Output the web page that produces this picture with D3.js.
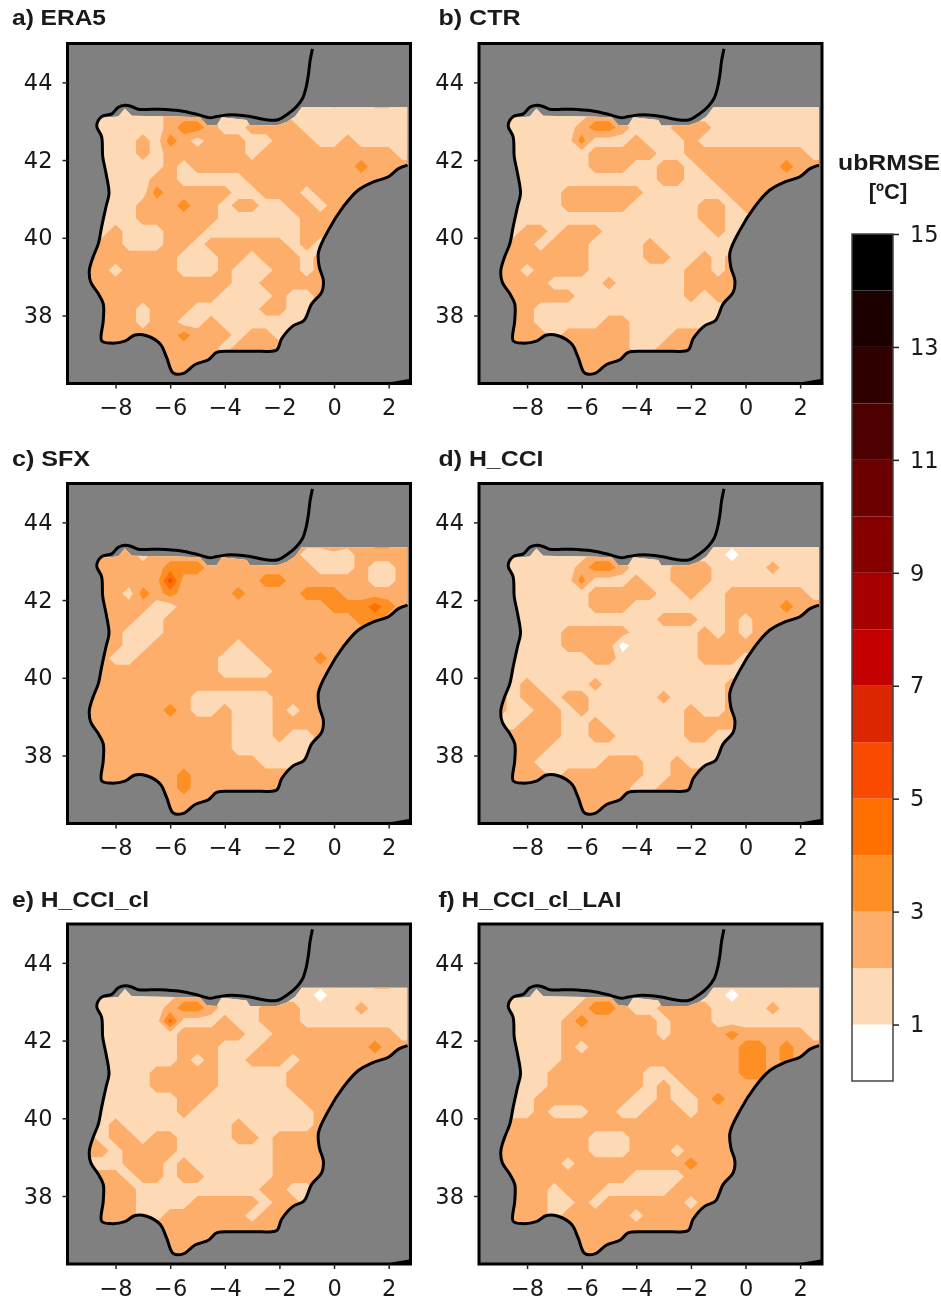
<!DOCTYPE html>
<html>
<head>
<meta charset="utf-8">
<style>
    html, body { margin: 0; padding: 0; background: #fff; }
    svg { display: block; filter: blur(0.45px); }
    text { fill: #1a1a1a; }
    .tick text { font-family: "DejaVu Sans", sans-serif; font-size: 22.5px; }
    .tick line { stroke: #222; stroke-width: 1.5px; }
    .title { font-family: "Liberation Sans", Arial, sans-serif; font-size: 22px; font-weight: bold; }
</style>
</head>
<body>
<svg width="941" height="1304"></svg>
<script src="https://d3js.org/d3.v7.min.js"></script>
<script>
    // colour bands, one per degree of ubRMSE from 0 to 15
    var levels = d3.range(0, 16);
    var bandColors = ["#ffffff", "#fdd9b5", "#fdae6b", "#fd8f24", "#ff7000", "#f84a00", "#dc2600", "#c40000",
        "#a60000", "#860000", "#6c0000", "#4c0000", "#300000", "#1c0000", "#000000"];
    var barTicks = [1, 3, 5, 7, 9, 11, 13, 15];
    var xTicks = [-8, -6, -4, -2, 0, 2];
    var yTicks = [38, 40, 42, 44];

    var titles = ["a) ERA5", "b) CTR", "c) SFX", "d) H_CCI", "e) H_CCI_cl", "f) H_CCI_cl_LAI"];

    // coast of Iberia, from the French side round to Catalonia
    var coastLon = [-0.79, -0.88, -0.94, -1.03, -1.15, -1.37, -1.67, -2.10, -2.59, -3.08, -3.57, -3.93, -4.30, -4.54, -5.03, -5.64, -6.37, -7.17, -7.41, -7.66, -7.90, -8.14, -8.51, -8.69, -8.51, -8.47, -8.35, -8.24, -8.35, -8.51, -8.63, -8.82, -8.96, -8.91, -8.63, -8.45, -8.45, -8.51, -8.21, -7.66, -7.29, -6.86, -6.37, -6.13, -5.89, -5.52, -5.09, -4.60, -4.30, -3.69, -2.71, -2.10, -1.92, -1.49, -1.10, -0.82, -0.45, -0.39, -0.54, -0.57, -0.21, 0.34, 0.89, 1.44, 1.99, 2.36, 2.69];
    var coastLat = [44.86, 44.54, 44.19, 43.85, 43.59, 43.38, 43.20, 43.03, 43.05, 43.12, 43.16, 43.16, 43.12, 43.09, 43.18, 43.27, 43.31, 43.31, 43.38, 43.41, 43.36, 43.19, 43.12, 42.88, 42.60, 42.09, 41.66, 41.14, 40.80, 40.28, 39.85, 39.51, 39.16, 38.86, 38.56, 38.30, 37.87, 37.35, 37.29, 37.34, 37.50, 37.48, 37.27, 36.92, 36.52, 36.51, 36.74, 36.86, 37.05, 37.08, 37.08, 37.11, 37.40, 37.74, 37.87, 38.30, 38.60, 38.90, 39.25, 39.63, 40.19, 40.80, 41.23, 41.44, 41.57, 41.78, 41.87];

    // northern limit of the model grid, it sits a bit inside the coast line
    var northLon = [-8.57, -7.90, -7.66, -7.41, -5.89, -4.91, -4.66, -4.30, -4.11, -3.20, -3.08, -2.10, -1.73, -1.43, -1.18, 2.69];
    var northLat = [43.08, 43.12, 43.33, 43.14, 43.12, 43.10, 42.90, 42.89, 43.10, 43.03, 42.89, 42.89, 42.98, 43.12, 43.36, 43.36];

    // bit of Africa in the lower right corner
    var africaLon = [2.05, 2.8, 2.8];
    var africaLat = [36.28, 36.37, 36.25];

    // ubRMSE band per grid cell, 0.5 deg in lon from -9.5, 1/3 deg in lat from 43.5
    var era5 = [
        "11111 11111 11111 11112 11221 1",
        "11111 11222 21111 21111 11111 1",
        "11111 11233 21122 22111 11111 1",
        "11111 21321 22211 22211 21111 1",
        "11111 21222 22212 22222 22221 1",
        "11111 11212 22222 22222 23222 2",
        "11111 12211 11122 22222 22222 2",
        "11111 13222 22112 22122 22222 2",
        "11111 22232 21221 12212 22222 2",
        "11111 22222 21111 11222 22222 2",
        "11121 11222 11111 11222 22222 2",
        "22221 11221 22222 21212 22222 2",
        "22222 22211 12212 22122 22222 2",
        "22212 22211 12111 22122 22222 2",
        "22222 22222 22112 22222 22222 2",
        "22222 22222 21111 21122 22222 2",
        "22222 12221 11112 21122 22222 2",
        "22222 12211 21111 11222 22222 2",
        "22222 22232 22122 11222 22222 2",
        "22222 22222 21222 22222 22222 2",
        "22222 22222 22222 22222 22222 2",
        "22222 22222 22222 22222 22222 2"
    ];
    var ctr = [
        "11111 11111 11111 11111 11111 1",
        "11111 11122 11111 11111 11111 1",
        "11111 11233 21112 22111 11111 1",
        "11111 11311 12111 21111 11111 1",
        "11111 11122 22211 22222 22221 1",
        "11111 11122 21122 12222 22322 2",
        "11111 11111 11122 11222 22222 2",
        "11111 12222 22111 11122 22222 2",
        "11111 12222 21111 12212 22222 2",
        "11111 11111 11111 12211 22222 2",
        "11122 12221 11111 11211 22222 2",
        "11221 22211 11211 11111 11111 1",
        "22222 22211 11221 12122 22222 2",
        "22212 22211 11111 22122 22222 2",
        "22222 11112 11111 22222 22222 2",
        "22222 22111 11111 21222 22222 2",
        "22221 11111 11111 11111 11111 1",
        "22221 11112 21111 11111 11111 1",
        "22222 12222 21112 22222 22222 2",
        "22222 22222 21122 22222 22222 2",
        "22222 22222 22222 22222 22222 2",
        "22222 22222 22222 22222 22222 2"
    ];
    var sfx = [
        "22222 22222 22222 22223 22332 2",
        "22222 12222 22222 22111 12222 2",
        "22222 22333 22222 22211 12112 2",
        "22222 22522 22223 32222 22112 2",
        "22221 32322 22322 22333 22222 2",
        "22222 21122 22222 22223 33432 2",
        "22222 11222 22222 22222 23322 2",
        "22221 11222 22222 22222 22222 2",
        "22221 12222 22122 22222 22222 2",
        "22211 22222 21112 22232 22222 2",
        "22222 22222 21111 22222 22222 2",
        "22222 22222 22222 22222 22222 2",
        "22222 22221 11111 22222 22222 2",
        "22222 22321 12111 21222 22222 2",
        "22222 22222 22111 22222 22222 2",
        "22222 22222 22111 21122 22222 2",
        "22222 22222 22111 11122 22222 2",
        "22222 22222 22221 11222 22222 2",
        "22222 22232 22222 22222 22222 2",
        "22222 22232 22222 22222 22222 2",
        "22222 22222 22222 22222 22222 2",
        "22222 22222 22222 22222 22222 2"
    ];
    var hCci = [
        "11111 11111 11111 11111 11111 1",
        "11111 11122 11111 11101 11111 1",
        "11111 11233 21112 22111 12111 1",
        "11111 11311 12112 22111 11111 1",
        "11111 11122 22211 21122 22221 1",
        "11111 11122 21111 11122 22322 2",
        "11111 11111 11122 21121 22222 2",
        "11111 12222 21111 12121 22222 2",
        "11111 12222 01111 12222 22222 2",
        "11111 11122 11111 12221 22222 2",
        "11111 11111 11111 11111 11111 1",
        "11121 11121 11111 11121 11111 1",
        "22122 12211 11121 11122 22222 2",
        "22112 21211 11111 21122 22222 2",
        "11122 21121 11111 22222 22222 2",
        "22222 21122 11111 22111 11111 1",
        "22222 11111 11111 11111 11111 1",
        "22221 11112 22112 11111 11111 1",
        "22222 12222 22112 22222 22222 2",
        "22222 22222 21122 22222 22222 2",
        "22222 22222 22222 22222 22222 2",
        "22222 22222 22222 22222 22222 2"
    ];
    var hCciCl = [
        "11111 11111 11111 11112 11221 1",
        "11111 11122 21111 11101 11111 1",
        "11111 11233 21112 22111 12111 1",
        "11111 11411 12112 22111 11111 1",
        "11111 11122 22211 22222 22221 1",
        "11111 11122 21112 22222 22322 2",
        "11111 11121 21122 21222 22222 2",
        "11111 12222 21111 12222 22222 2",
        "11111 12222 21111 12222 22222 2",
        "11111 11122 11111 11222 22222 2",
        "11111 11121 11111 11122 22222 2",
        "11121 11111 11211 11122 22222 2",
        "22122 12211 11221 22222 22222 2",
        "22212 22211 11111 22222 22222 2",
        "11112 22121 11111 22222 22222 2",
        "22221 22122 11111 22222 22222 2",
        "22222 11111 11112 21122 22222 2",
        "22222 11112 22221 22122 22222 2",
        "22222 11222 22212 22222 22222 2",
        "22222 22222 22222 22222 22222 2",
        "22222 22222 22222 22222 22222 2",
        "22222 22222 22222 22222 22222 2"
    ];
    var hCciClLai = [
        "11111 11111 11111 11111 11211 1",
        "11111 11122 11111 11101 11111 1",
        "11111 11233 21122 22111 12111 1",
        "11111 12322 22212 22111 11111 1",
        "11111 12222 22212 22232 22221 1",
        "11111 12122 22222 22223 32322 2",
        "11111 12222 22222 22223 32322 2",
        "11111 22222 22112 22223 32222 2",
        "11111 22222 22121 22222 22222 2",
        "11112 22222 21121 12322 22222 2",
        "11112 11122 11222 12222 22222 2",
        "11222 22222 22222 22222 22222 2",
        "22222 22211 12222 22222 22222 2",
        "22222 22211 12221 22222 22222 2",
        "22222 21222 22222 32222 22222 2",
        "22222 22222 21111 22222 22222 2",
        "22222 12221 11112 22222 22222 2",
        "22222 11212 22222 12222 22222 2",
        "22222 12222 21222 22222 22222 2",
        "22222 22222 22222 22222 22222 2",
        "22222 22222 22222 22222 22222 2",
        "22222 22222 22222 22222 22222 2"
    ];
    var fields = [era5, ctr, sfx, hCci, hCciCl, hCciClLai];

    var svg = d3.select("svg");

    // layout
    var panelLeft = [67.5, 479],
        panelTop = [43.5, 483.5, 924],
        panelW = 343,
        panelH = 340,
        titleLeft = [12, 438.5],
        titleBase = [25, 466, 907],
        titleLen = [94, 82, 78, 105, 137, 183];

    var gridCols = 26, gridRows = 22;

    var coast = d3.zip(coastLon, coastLat);
    var k = coastLon.indexOf(-8.69);
    var land = d3.zip(northLon, northLat).concat(coast.slice(k).reverse());
    var africa = d3.zip(africaLon, africaLat);

    fields.forEach(function(rows, i) {
        var left = panelLeft[i % 2], top = panelTop[Math.floor(i / 2)];
        var x = d3.scaleLinear().domain([-9.76, 2.8]).range([0, panelW]);
        var y = d3.scaleLinear().domain([36.25, 45]).range([panelH, 0]);
        var g = svg.append("g").attr("transform", "translate(" + left + "," + top + ")");

        var line = d3.line()
            .x(function(d) { return x(d[0]); })
            .y(function(d) { return y(d[1]); });

        g.append("clipPath").attr("id", "land" + i)
            .append("path").attr("d", line(land) + "Z");
        g.append("clipPath").attr("id", "frame" + i)
            .append("rect").attr("width", panelW).attr("height", panelH);

        g.append("rect").attr("width", panelW).attr("height", panelH).attr("fill", "#808080");

        var map = g.append("g").attr("clip-path", "url(#land" + i + ")");
        map.append("rect").attr("width", panelW).attr("height", panelH).attr("fill", bandColors[0]);

        var values = [];
        rows.forEach(function(r) {
            r.replace(/ /g, "").split("").forEach(function(c) { values.push(+c + 0.5); });
        });

        // grid index -> lon/lat -> pixel
        var path = d3.geoPath(d3.geoTransform({
            point: function(cx, cy) {
                this.stream.point(x(-9.5 + (cx - 0.5) * 0.5), y(43.5 - (cy - 0.5) / 3));
            }
        }));

        var contours = d3.contours().size([gridCols, gridRows]).thresholds(levels.slice(1, 15))(values);
        map.selectAll("path.band")
            .data(contours.filter(function(c) { return c.coordinates.length > 0; }))
            .enter().append("path")
            .attr("class", "band")
            .attr("fill", function(c) { return bandColors[c.value]; })
            .attr("d", path);

        var shore = g.append("g").attr("clip-path", "url(#frame" + i + ")");
        shore.append("path")
            .attr("d", line.curve(d3.curveCatmullRom)(coast))
            .attr("fill", "none").attr("stroke", "#000").attr("stroke-width", 3);
        shore.append("path")
            .attr("d", line.curve(d3.curveLinear)(africa) + "Z")
            .attr("fill", "#000");

        g.append("rect").attr("width", panelW).attr("height", panelH)
            .attr("fill", "none").attr("stroke", "#000").attr("stroke-width", 3);

        g.append("g").attr("transform", "translate(0," + panelH + ")")
            .call(d3.axisBottom(x).tickValues(xTicks).tickSize(5).tickPadding(11))
            .call(function(a) { a.select(".domain").remove(); });
        g.append("g")
            .call(d3.axisLeft(y).tickValues(yTicks).tickSize(5).tickPadding(10))
            .call(function(a) { a.select(".domain").remove(); });

        svg.append("text").attr("class", "title")
            .attr("x", titleLeft[i % 2]).attr("y", titleBase[Math.floor(i / 2)])
            .attr("textLength", titleLen[i]).attr("lengthAdjust", "spacingAndGlyphs")
            .text(titles[i]);
    });

    // colour bar
    var barY = d3.scaleLinear().domain([0, 15]).range([1081, 234]);
    var bar = svg.append("g").attr("transform", "translate(852,0)");
    bar.selectAll("rect")
        .data(bandColors)
        .enter().append("rect")
        .attr("x", 0)
        .attr("width", 41)
        .attr("y", function(d, i) { return barY(levels[i + 1]); })
        .attr("height", function(d, i) { return barY(levels[i]) - barY(levels[i + 1]); })
        .attr("fill", function(d) { return d; });
    bar.append("rect").attr("y", barY(15)).attr("width", 41).attr("height", barY(0) - barY(15))
        .attr("fill", "none").attr("stroke", "#444").attr("stroke-width", 1.5);
    bar.append("g").attr("transform", "translate(41,0)")
        .call(d3.axisRight(barY).tickValues(barTicks).tickSize(6).tickPadding(11))
        .call(function(a) { a.select(".domain").remove(); });

    svg.append("text").attr("class", "title").attr("x", 889).attr("y", 170)
        .attr("text-anchor", "middle").attr("textLength", 102).attr("lengthAdjust", "spacingAndGlyphs")
        .text("ubRMSE");
    svg.append("text").attr("class", "title").attr("x", 888).attr("y", 199)
        .attr("text-anchor", "middle")
        .text("[ºC]");
</script>
</body>
</html>
